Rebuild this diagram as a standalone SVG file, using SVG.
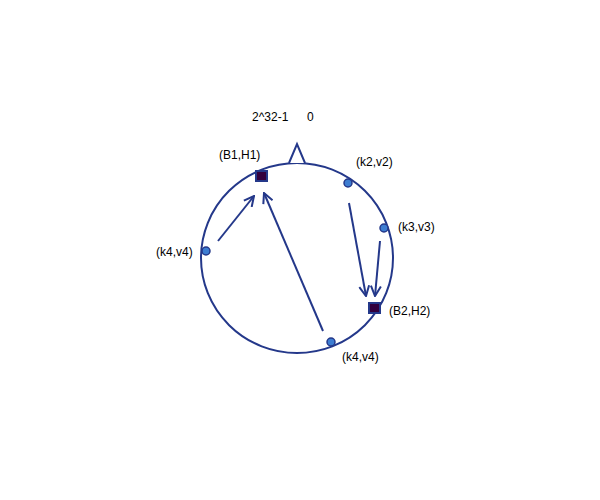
<svg xmlns="http://www.w3.org/2000/svg" width="600" height="500" viewBox="0 0 600 500">
<defs>
<style>
.ln{stroke:#24388a;stroke-width:2;fill:none}
.dot{fill:#3d7dd1;stroke:#24388a;stroke-width:1.5}
.sq{fill:#33003d;stroke:#24388a;stroke-width:2}
text{font-family:"Liberation Sans",Arial,sans-serif;font-size:12px;fill:#000}
</style>
<marker id="ah" viewBox="0 0 12 12" refX="11" refY="6" markerWidth="12" markerHeight="12" markerUnits="userSpaceOnUse" orient="auto">
<path d="M1,1 L11,6 L1,11" fill="none" stroke="#24388a" stroke-width="2"/>
</marker>
</defs>
<rect width="600" height="500" fill="#fff"/>
<g id="ring">
<ellipse class="ln" cx="297" cy="258" rx="96" ry="95"/>
<path class="ln" d="M289,163 L297,144 L305,163" fill="#fff" style="fill:#fff"/>
<text x="252" y="121">2^32-1</text>
<text x="307" y="121">0</text>
</g>
<g id="connectors">
<line class="ln" x1="218" y1="241" x2="254" y2="196" marker-end="url(#ah)"/>
<line class="ln" x1="323" y1="331" x2="264" y2="193" marker-end="url(#ah)"/>
<line class="ln" x1="349" y1="203" x2="366" y2="296" marker-end="url(#ah)"/>
<line class="ln" x1="380" y1="241" x2="375" y2="296" marker-end="url(#ah)"/>
</g>
<g id="b1h1">
<rect class="sq" x="256" y="171" width="11" height="10"/>
<text x="219" y="159">(B1,H1)</text>
</g>
<g id="k2v2">
<circle class="dot" cx="348" cy="183" r="4"/>
<text x="356" y="166">(k2,v2)</text>
</g>
<g id="k3v3">
<circle class="dot" cx="384" cy="228" r="4"/>
<text x="398" y="231">(k3,v3)</text>
</g>
<g id="b2h2">
<rect class="sq" x="369" y="303" width="11" height="10"/>
<text x="389" y="315">(B2,H2)</text>
</g>
<g id="k4v4a">
<circle class="dot" cx="206" cy="251" r="4"/>
<text x="156" y="256">(k4,v4)</text>
</g>
<g id="k4v4b">
<circle class="dot" cx="331" cy="342" r="4"/>
<text x="342" y="361">(k4,v4)</text>
</g>
</svg>
